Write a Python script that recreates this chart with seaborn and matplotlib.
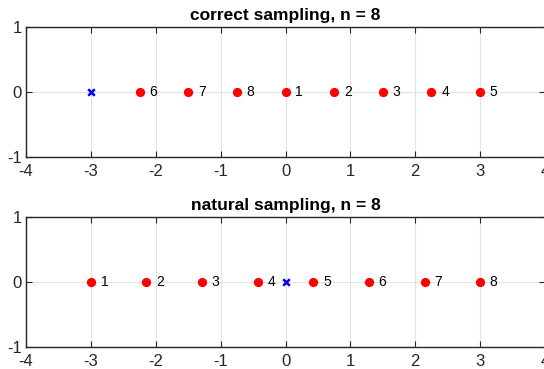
import matplotlib
matplotlib.use("Agg")
import matplotlib.pyplot as plt
import seaborn as sns
import pandas as pd

sns.set_style("white")
plt.rcParams['font.family'] = ['Liberation Sans', 'DejaVu Sans']
plt.rcParams['axes.unicode_minus'] = False

# Data
titles = ["correct sampling, n = 8", "natural sampling, n = 8"]
top_x = [0.0, 0.75, 1.5, 2.25, 3.0, -2.25, -1.5, -0.75]
top_labels = ["1", "2", "3", "4", "5", "6", "7", "8"]
top_center = [-3.0]
bot_x = [-3.0, -2.1429, -1.2857, -0.4286, 0.4286, 1.2857, 2.1429, 3.0]
bot_labels = ["1", "2", "3", "4", "5", "6", "7", "8"]
bot_center = [0.0]
xticks = [-4, -3, -2, -1, 0, 1, 2, 3, 4]
yticks = [-1, 0, 1]

fig = plt.figure(figsize=(5.44, 3.69), dpi=100)
positions = [[26/544, 1-157/369, 519/544, 130/369],
             [26/544, 1-347/369, 519/544, 130/369]]

spine_col = "#262626"
sets = [(top_x, top_labels, top_center), (bot_x, bot_labels, bot_center)]
for pos, title, (xs, labs, cen) in zip(positions, titles, sets):
    ax = fig.add_axes(pos)
    df = pd.DataFrame({"x": xs, "y": [0.0]*len(xs)})
    dc = pd.DataFrame({"x": cen, "y": [0.0]*len(cen)})
    ax.set_xlim(-4, 4)
    ax.set_ylim(-1, 1)
    ax.set_xticks(xticks)
    ax.set_yticks(yticks)
    ax.grid(True, color="#e3e3e3", linewidth=0.8)
    ax.set_axisbelow(True)
    sns.scatterplot(data=dc, x="x", y="y", ax=ax, marker="x", color="blue",
                    s=22, linewidth=1.8, zorder=3)
    sns.scatterplot(data=df, x="x", y="y", ax=ax, marker="o", color="red",
                    edgecolor="red", s=34, linewidth=0.8, zorder=3)
    for x, lab in zip(xs, labs):
        ax.text(x + 0.15, 0, lab, ha="left", va="center", fontsize=10,
                color="black")
    ax.set_xlabel("")
    ax.set_ylabel("")
    ax.set_title(title, fontsize=12.5, fontweight="bold", pad=5, color="black")
    for sp in ax.spines.values():
        sp.set_color(spine_col)
        sp.set_linewidth(1.0)
    ax.tick_params(direction="in", length=4, width=0.8, color=spine_col,
                   labelcolor=spine_col, labelsize=12, top=True, right=True,
                   bottom=True, left=True)
    ax.tick_params(axis="x", pad=5)
    ax.tick_params(axis="y", pad=3)

fig.savefig("out.png", dpi=100)
